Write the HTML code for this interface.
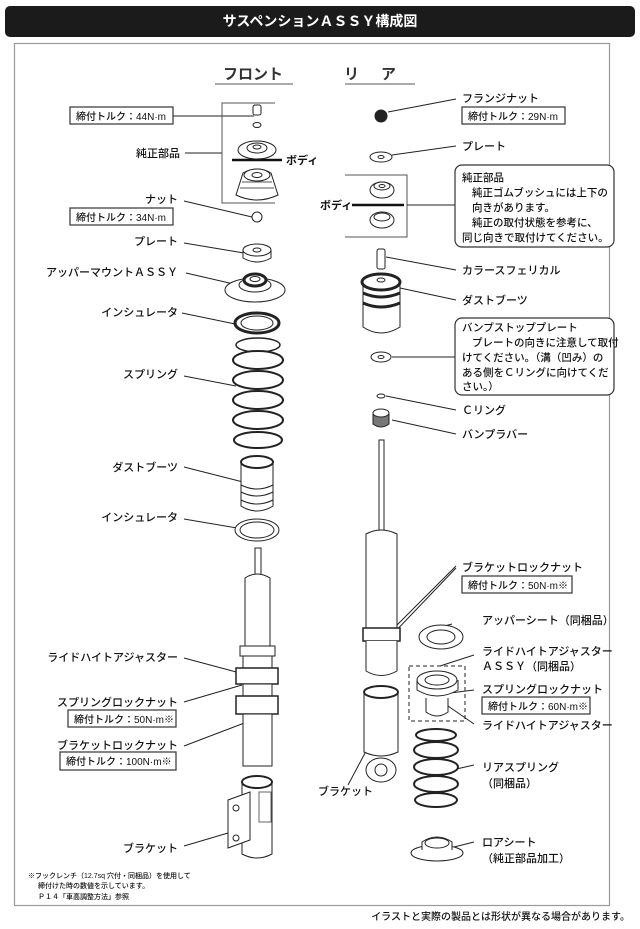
<!DOCTYPE html>
<html><head><meta charset="utf-8"><style>
html,body{margin:0;padding:0;background:#fff;}
svg{display:block;}
text{font-family:"Liberation Sans","Noto Sans CJK JP",sans-serif;font-size:11px;fill:#111;font-weight:500;}
.b{font-weight:bold;}
.bx{font-size:10px;}
.c{font-size:10.5px;}
</style></head><body>
<svg width="640" height="929" viewBox="0 0 640 929" xmlns="http://www.w3.org/2000/svg">
<rect x="5" y="6" width="630" height="31" rx="5" fill="#1b1b1b"/>
<text x="320" y="26" text-anchor="middle" class="b" style="fill:#fff;font-size:14px">サスペンションＡＳＳＹ構成図</text>
<rect x="14.5" y="43.5" width="595" height="862" fill="none" stroke="#999" stroke-width="1.2"/>
<text x="253" y="79" text-anchor="middle" class="b" style="font-size:15px;fill:#333">フロント</text>
<line x1="215" y1="84" x2="293" y2="84" stroke="#555"/>
<text x="381" y="79" text-anchor="middle" class="b" style="font-size:15px;fill:#333;letter-spacing:22px">リア</text>
<line x1="345" y1="84" x2="415" y2="84" stroke="#555"/>

<g fill="none" stroke="#222" stroke-width="1">
<line x1="173" y1="116" x2="254" y2="116"/>
<line x1="185" y1="153" x2="222" y2="153"/>
<polyline points="275,103 222,103 222,203 275,203" stroke="#555"/>
<line x1="184" y1="201" x2="252" y2="217"/>
<line x1="184" y1="243" x2="244" y2="253"/>
<line x1="186" y1="273" x2="238" y2="285"/>
<line x1="182" y1="313" x2="240" y2="325"/>
<line x1="184" y1="376" x2="236" y2="386"/>
<line x1="184" y1="467" x2="243" y2="482"/>
<line x1="184" y1="519" x2="237" y2="528"/>
<line x1="184" y1="658" x2="240" y2="673"/>
<line x1="184" y1="702" x2="242" y2="685"/>
<line x1="184" y1="746" x2="260" y2="717"/>
<line x1="184" y1="846" x2="245" y2="828"/>
<line x1="388" y1="112" x2="456" y2="99"/>
<line x1="392" y1="155" x2="456" y2="146"/>
<polyline points="345,175 407,175 407,237 345,237" stroke="#555"/>
<line x1="407" y1="205" x2="455" y2="205"/>
<line x1="386" y1="257" x2="456" y2="270"/>
<line x1="400" y1="288" x2="456" y2="300"/>
<line x1="392" y1="357" x2="455" y2="357"/>
<line x1="386" y1="396" x2="456" y2="410"/>
<line x1="392" y1="420" x2="456" y2="434"/>
<line x1="456" y1="566" x2="385" y2="637"/>
<line x1="456" y1="568" x2="390" y2="637"/>
<line x1="452" y1="624" x2="430" y2="630"/>
<line x1="474" y1="655" x2="440" y2="666"/>
<line x1="474" y1="690" x2="450" y2="693"/>
<line x1="474" y1="724" x2="448" y2="706"/>
<line x1="474" y1="765" x2="452" y2="770"/>
<line x1="474" y1="842" x2="450" y2="848"/>
<line x1="348" y1="785" x2="372" y2="740"/>
<rect x="409" y="666" width="56" height="55" stroke-dasharray="4,3"/>
</g>
<line x1="232" y1="160" x2="282" y2="160" stroke="#111" stroke-width="2.5"/>
<line x1="352" y1="205" x2="404" y2="205" stroke="#111" stroke-width="2.5"/>

<g fill="#fff" stroke="#333" stroke-width="1.2">
<rect x="70" y="107" width="103" height="17"/>
<rect x="70" y="208" width="103" height="17"/>
<rect x="68" y="710" width="108" height="17"/>
<rect x="60" y="752" width="116" height="18"/>
<rect x="462" y="107" width="103" height="17"/>
<rect x="462" y="576" width="110" height="17"/>
<rect x="482" y="697" width="108" height="17"/>
<rect x="455" y="165" width="159" height="82" rx="7"/>
<rect x="455" y="318" width="159" height="77" rx="7"/>
</g>

<g fill="#fff" stroke="#222" stroke-width="1">
<rect x="253" y="105" width="8" height="10" rx="2"/>
<ellipse cx="257" cy="125" rx="4" ry="2.5"/>
<ellipse cx="257" cy="150" rx="19" ry="9"/><ellipse cx="257" cy="148" rx="10" ry="5"/><ellipse cx="257" cy="147" rx="4" ry="2"/>
<path d="M236,195 L243,173 Q257,165 271,173 L278,195 Q257,205 236,195Z"/>
<ellipse cx="257" cy="175" rx="13" ry="6"/><ellipse cx="257" cy="175" rx="5" ry="2.5"/>
<path d="M240,188 h34 M242,182 h30" stroke="#555"/>
<circle cx="257" cy="217" r="5"/>
<path d="M243,250 v8 Q257,266 271,258 v-8"/><ellipse cx="257" cy="250" rx="14" ry="6"/><ellipse cx="257" cy="250" rx="4" ry="2"/>
<ellipse cx="255" cy="290" rx="30" ry="12"/><ellipse cx="255" cy="285" rx="16" ry="7"/><ellipse cx="255" cy="280" rx="11" ry="6" stroke-width="3"/><ellipse cx="255" cy="279" rx="5" ry="2.5"/>
<ellipse cx="257" cy="323" rx="22" ry="10" stroke-width="3"/><ellipse cx="257" cy="323" rx="16" ry="7"/>
<ellipse cx="258" cy="345" rx="22" ry="7" stroke-width="1.5"/>
<ellipse cx="258" cy="360" rx="25" ry="9" stroke-width="2"/>
<ellipse cx="258" cy="380" rx="25" ry="9" stroke-width="2"/>
<ellipse cx="258" cy="400" rx="25" ry="9" stroke-width="2"/>
<ellipse cx="258" cy="420" rx="25" ry="9" stroke-width="2"/>
<ellipse cx="258" cy="440" rx="24" ry="8" stroke-width="2"/>
<path d="M241,462 v44 Q257,516 273,506 v-44"/><ellipse cx="257" cy="462" rx="16" ry="6" stroke-width="2"/>
<path d="M241,492 Q257,500 273,492 M241,500 Q257,508 273,500 M241,485 Q257,493 273,485"/>
<ellipse cx="257" cy="530" rx="22" ry="11"/><ellipse cx="257" cy="530" rx="17" ry="8"/>
<rect x="255" y="548" width="6" height="28"/>
<path d="M245,578 v68 h25 v-68 Q257,570 245,578Z"/>
<rect x="240" y="646" width="35" height="10"/>
<rect x="243" y="656" width="29" height="12"/>
<rect x="236" y="668" width="42" height="16" stroke-width="1.5"/>
<rect x="243" y="684" width="29" height="12"/>
<rect x="236" y="696" width="42" height="18" stroke-width="1.5"/>
<rect x="243" y="714" width="29" height="52"/>
<path d="M242,782 v72 Q257,862 272,854 v-72"/><ellipse cx="257" cy="782" rx="15" ry="6" stroke-width="2"/>
<path d="M228,800 l22,-8 v48 l-22,8Z"/><circle cx="236" cy="808" r="3"/><circle cx="236" cy="838" r="3"/>
<rect x="259" y="792" width="12" height="30" stroke="#666"/>
</g>
<g fill="#fff" stroke="#222" stroke-width="1">
<circle cx="381" cy="116" r="6" fill="#222"/>
<ellipse cx="381" cy="157" rx="11" ry="5"/><ellipse cx="381" cy="157" rx="3" ry="1.5"/>
<ellipse cx="382" cy="190" rx="12" ry="8"/><ellipse cx="382" cy="186" rx="8" ry="4"/><ellipse cx="382" cy="186" rx="3" ry="1.5"/>
<ellipse cx="382" cy="220" rx="12" ry="8"/><ellipse cx="382" cy="217" rx="8" ry="4"/>
<rect x="377" y="249" width="8" height="20" rx="2"/>
<path d="M363,282 v45 Q381,339 400,327 v-45"/><ellipse cx="381" cy="282" rx="19" ry="8" stroke-width="3"/><ellipse cx="381" cy="280" rx="4" ry="2"/>
<path d="M363,293 Q381,301 400,293 M363,303 Q381,311 400,303" stroke-width="3"/>
<ellipse cx="381" cy="357" rx="10" ry="5"/><ellipse cx="381" cy="357" rx="3" ry="1.5"/>
<ellipse cx="381" cy="396" rx="4" ry="2"/>
<path d="M373,414 v10 Q381,430 389,424 v-10" fill="#777"/><ellipse cx="381" cy="413" rx="8" ry="4"/>
<rect x="379" y="440" width="5" height="92"/>
<path d="M366,534 v94 h31 v-94 Q381,526 366,534Z"/>
<rect x="363" y="628" width="37" height="13" stroke-width="1.5"/>
<path d="M366,641 v30 Q381,680 397,671 v-30"/>
<path d="M364,692 v60 Q381,760 398,752 v-60"/><ellipse cx="381" cy="692" rx="17" ry="6" stroke-width="2"/>
<ellipse cx="381" cy="770" rx="15" ry="12"/><circle cx="381" cy="770" r="6"/>
<ellipse cx="441" cy="637" rx="22" ry="12"/><ellipse cx="441" cy="637" rx="14" ry="7"/>
<path d="M426,698 v14 Q437,720 448,712 v-14"/>
<path d="M417,680 v10 Q437,702 458,690 v-10"/><ellipse cx="437" cy="680" rx="20" ry="9"/><ellipse cx="437" cy="680" rx="12" ry="5"/>
<ellipse cx="436" cy="735" rx="20" ry="6" stroke-width="2"/>
<ellipse cx="436" cy="750" rx="22" ry="8" stroke-width="2"/>
<ellipse cx="436" cy="767" rx="22" ry="8" stroke-width="2"/>
<ellipse cx="436" cy="784" rx="22" ry="8" stroke-width="2"/>
<ellipse cx="436" cy="800" rx="21" ry="7" stroke-width="2"/>
<ellipse cx="437" cy="853" rx="26" ry="8"/><path d="M422,850 v-8 Q437,832 452,842 v8"/><ellipse cx="437" cy="843" rx="12" ry="5"/>
</g>

<text x="76" y="120" class="bx">締付トルク：44N·m</text>
<text x="180" y="157" text-anchor="end">純正部品</text>
<text x="286" y="164" class="b">ボディ</text>
<text x="178" y="203" text-anchor="end">ナット</text>
<text x="76" y="221" class="bx">締付トルク：34N·m</text>
<text x="178" y="245" text-anchor="end">プレート</text>
<text x="178" y="276" text-anchor="end">アッパーマウントＡＳＳＹ</text>
<text x="178" y="316" text-anchor="end">インシュレータ</text>
<text x="178" y="378" text-anchor="end">スプリング</text>
<text x="178" y="471" text-anchor="end">ダストブーツ</text>
<text x="178" y="521" text-anchor="end">インシュレータ</text>
<text x="178" y="661" text-anchor="end">ライドハイトアジャスター</text>
<text x="178" y="706" text-anchor="end">スプリングロックナット</text>
<text x="74" y="723" class="bx">締付トルク：50N·m※</text>
<text x="178" y="749" text-anchor="end">ブラケットロックナット</text>
<text x="66" y="765" class="bx">締付トルク：100N·m※</text>
<text x="178" y="852" text-anchor="end">ブラケット</text>
<text x="28" y="878" style="font-size:7px">※フックレンチ（12.7sq 穴付・同梱品）を使用して</text>
<text x="38" y="888" style="font-size:7px">締付けた時の数値を示しています。</text>
<text x="38" y="899" style="font-size:7px">Ｐ１４「車高調整方法」参照</text>
<text x="462" y="102">フランジナット</text>
<text x="468" y="120" class="bx">締付トルク：29N·m</text>
<text x="462" y="150">プレート</text>
<text x="320" y="209" class="b">ボディ</text>
<text x="462" y="181" class="c">純正部品</text>
<text x="472" y="196" class="c">純正ゴムブッシュには上下の</text>
<text x="472" y="211" class="c">向きがあります。</text>
<text x="472" y="226" class="c">純正の取付状態を参考に、</text>
<text x="462" y="241" class="c">同じ向きで取付けてください。</text>
<text x="462" y="274">カラースフェリカル</text>
<text x="462" y="304">ダストブーツ</text>
<text x="462" y="331" class="c">バンプストッププレート</text>
<text x="472" y="346" class="c">プレートの向きに注意して取付</text>
<text x="462" y="361" class="c">けてください。（溝（凹み）の</text>
<text x="462" y="376" class="c">ある側をＣリングに向けてくだ</text>
<text x="462" y="390" class="c">さい。）</text>
<text x="462" y="414">Ｃリング</text>
<text x="462" y="438">バンプラバー</text>
<text x="462" y="571">ブラケットロックナット</text>
<text x="468" y="589" class="bx">締付トルク：50N·m※</text>
<text x="482" y="624">アッパーシート（同梱品）</text>
<text x="482" y="655">ライドハイトアジャスター</text>
<text x="482" y="670">ＡＳＳＹ（同梱品）</text>
<text x="482" y="693">スプリングロックナット</text>
<text x="488" y="710" class="bx">締付トルク：60N·m※</text>
<text x="482" y="729">ライドハイトアジャスター</text>
<text x="482" y="771">リアスプリング</text>
<text x="482" y="787">（同梱品）</text>
<text x="318" y="795">ブラケット</text>
<text x="482" y="846">ロアシート</text>
<text x="482" y="862">（純正部品加工）</text>
<text x="630" y="920" text-anchor="end" style="font-size:10px">イラストと実際の製品とは形状が異なる場合があります。</text>
</svg>
</body></html>
